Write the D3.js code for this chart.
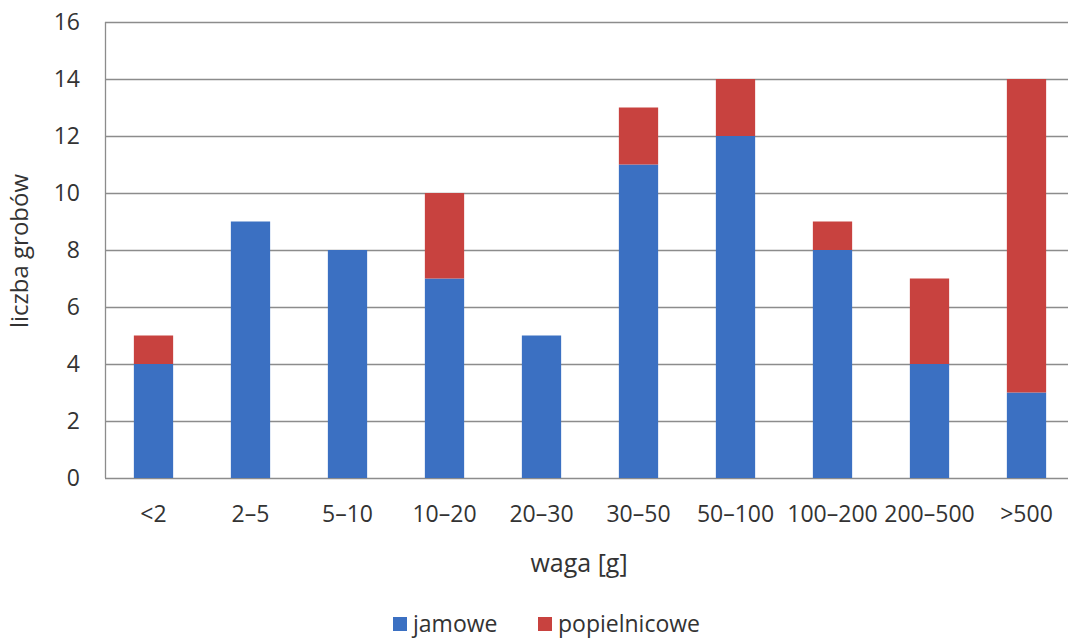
<!DOCTYPE html>
<html><head><meta charset="utf-8">
<script src="https://cdn.jsdelivr.net/npm/d3@7"></script>
<style>body{margin:0;background:#fff}svg{display:block}text{font-family:"Open Sans",sans-serif;fill:#333}</style>
</head><body><svg id="c" width="1068" height="639"></svg>
<script>
const categories = ["<2","2–5","5–10","10–20","20–30","30–50","50–100","100–200","200–500",">500"];
const jamowe = [4,9,8,7,5,11,12,8,4,3];
const popielnicowe = [1,0,0,3,0,2,2,1,3,11];
const seriesNames = ["jamowe","popielnicowe"];
const colors = ["#3b70c2","#c8423f"];
const yTicks = [0,2,4,6,8,10,12,14,16];

const svg = d3.select("#c");
const L=105, R=1075, T=22, B=478;
const x = d3.scaleBand().domain(categories).range([L,R]).padding(0);
const y = d3.scaleLinear().domain([0,16]).range([B,T]);
const bw = x.bandwidth()*0.405;

// gridlines
svg.append("g").selectAll("line").data(yTicks).join("line")
  .attr("x1",L).attr("x2",R).attr("y1",d=>y(d)+0.5).attr("y2",d=>y(d)+0.5)
  .attr("stroke","#8c8c8c").attr("stroke-width",1.3);
svg.append("line").attr("x1",L+0.5).attr("x2",L+0.5).attr("y1",T).attr("y2",B)
  .attr("stroke","#8c8c8c").attr("stroke-width",1.3);

const data = categories.map((c,i)=>({cat:c,jamowe:jamowe[i],popielnicowe:popielnicowe[i]}));
const stack = d3.stack().keys(seriesNames)(data);
svg.append("g").selectAll("g").data(stack).join("g").attr("fill",(d,i)=>colors[i])
  .selectAll("rect").data(d=>d).join("rect")
  .attr("x",d=>x(d.data.cat)+x.bandwidth()/2-bw/2).attr("width",bw)
  .attr("y",d=>y(d[1])).attr("height",d=>y(d[0])-y(d[1]));

// axes
const ya = svg.append("g").attr("transform",`translate(${L},0)`)
  .call(d3.axisLeft(y).tickValues(yTicks).tickSize(0).tickPadding(25));
ya.select(".domain").remove();
ya.selectAll("text").style("font-size","23px").style("font-family","Open Sans").attr("fill","#333");
const xa = svg.append("g").attr("transform",`translate(0,${B})`)
  .call(d3.axisBottom(x).tickSize(0).tickPadding(28));
xa.select(".domain").remove();
xa.selectAll("text").style("font-size","23px").style("font-family","Open Sans").attr("fill","#333");

svg.append("text").attr("transform",`translate(28,251) rotate(-90)`)
  .attr("text-anchor","middle").style("font-size","24px").text("liczba grobów");
svg.append("text").attr("x",579).attr("y",572).attr("text-anchor","middle")
  .style("font-size","25px").text("waga [g]");

// legend
const lg = svg.append("g");
const lx = [393,538];
seriesNames.forEach((n,i)=>{
  lg.append("rect").attr("x",lx[i]).attr("y",617).attr("width",14).attr("height",14).attr("fill",colors[i]);
  lg.append("text").attr("x",lx[i]+20).attr("y",632).style("font-size","23px").text(n);
});
</script></body></html>
